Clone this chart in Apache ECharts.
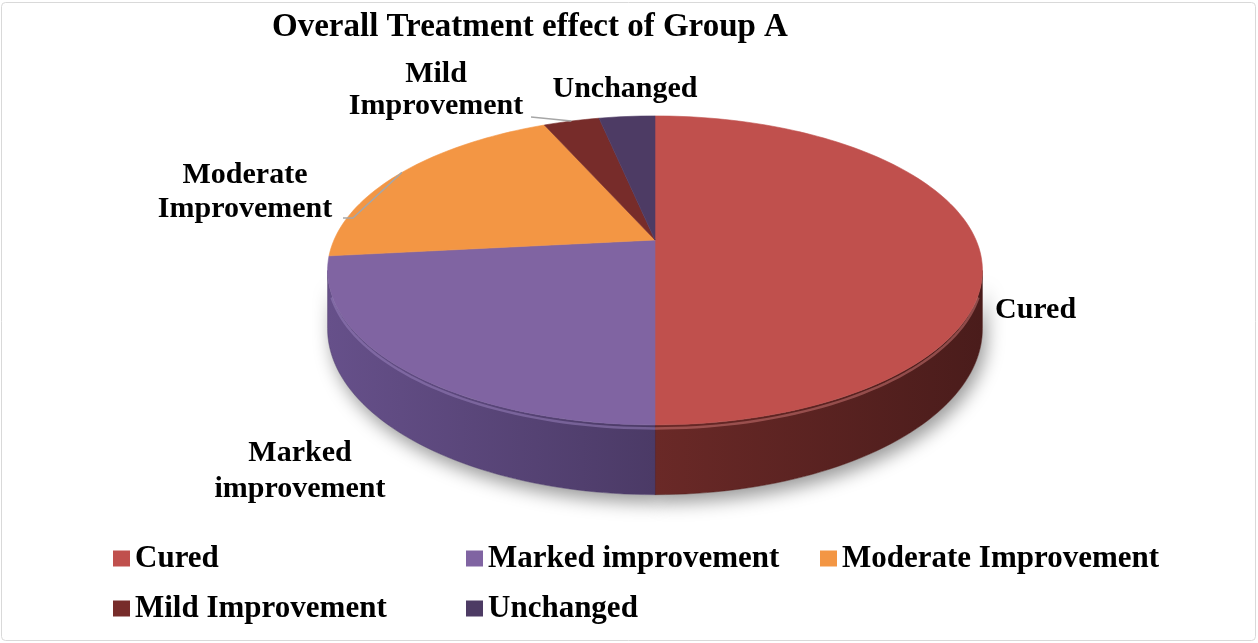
<!DOCTYPE html>
<html>
<head>
<meta charset="utf-8">
<script src="https://cdn.jsdelivr.net/npm/echarts@6/dist/echarts.min.js"></script>
<style>
  html, body { margin: 0; padding: 0; background: #fff; }
  #chart { width: 1258px; height: 643px; }
</style>
</head>
<body>
<div id="chart"></div>
<script>
// data (patients per outcome, 30 in total)
const categories = ['Cured', 'Marked improvement', 'Moderate Improvement', 'Mild Improvement', 'Unchanged'];
const patientCounts = [15, 7, 6, 1, 1];
const labelTexts = ['Cured', 'Marked\nimprovement', 'Moderate\nImprovement', 'Mild\nImprovement', 'Unchanged'];

// colours
const topColors = ['#C0504D', '#8064A2', '#F39644', '#772C2A', '#4D3B64'];
const sideColors = [
    ['#6a2927', '#4a1c1b'],
    ['#66508a', '#4b3a66'],
    ['#b86d2c', '#8f5220'],
    ['#4f1c1b', '#3c1514'],
    ['#3a2c4c', '#2c2139']
];
const rimColors = ['#d27a77', '#9c84c0', '#f8b57a', '#9a4a47', '#6e5a88'];

const FONT = 'Liberation Serif';

// tilted disc drawn with a light perspective
const PIE = { cx: 655, cy: 240, rx: 321, ry: 148.5, persp: 0.197, depth: 56 };

// where the data labels sit (y is the middle of the text block)
const labelLayout = {
    'Cured': { x: 995, y: 310, align: 'left', lineHeight: 34 },
    'Marked improvement': { x: 300, y: 471, align: 'center', lineHeight: 36 },
    'Moderate Improvement': { x: 245, y: 192, align: 'center', lineHeight: 34, leader: [[343, 218], [353, 218]] },
    'Mild Improvement': { x: 436, y: 90, align: 'center', lineHeight: 32, leader: [[531, 117]] },
    'Unchanged': { x: 625, y: 89, align: 'center', lineHeight: 34 }
};

const legendSpots = [[113, 543], [466, 543], [820, 543], [113, 593], [466, 593]];

// angles (degrees clockwise from 12 o'clock)
const total = patientCounts.reduce((a, b) => a + b, 0);
const sweeps = patientCounts.map(v => v / total * 360);
const starts = [];
sweeps.reduce((acc, s) => { starts.push(acc); return acc + s; }, 0);

// the wall is seen between the two widest points of the disc
const wallFrom = Math.acos(-PIE.persp) * 180 / Math.PI;
const wallTo = 360 - wallFrom;

function project(angle, d) {
    const rad = angle * Math.PI / 180;
    const u = Math.sin(rad), v = -Math.cos(rad);
    const s = 1 / (1 - PIE.persp * v);
    return [PIE.cx + PIE.rx * u * s, PIE.cy + PIE.ry * v * s + d * PIE.depth * s];
}

function arc(a0, a1, d) {
    const pts = [];
    const n = Math.max(2, Math.ceil(Math.abs(a1 - a0) / 1.5));
    for (let i = 0; i <= n; i++) pts.push(project(a0 + (a1 - a0) * i / n, d));
    return pts;
}

function renderSlice(i, a0, sweep) {
    const a1 = a0 + sweep;
    const children = [];

    // front wall
    const s0 = Math.max(a0, wallFrom), s1 = Math.min(a1, wallTo);
    if (s1 > s0) {
        const wall = arc(s0, s1, 0).concat(arc(s1, s0, 1));
        const grad = new echarts.graphic.LinearGradient(0, 0, 1, 0, [
            { offset: 0, color: sideColors[i][0] },
            { offset: 1, color: sideColors[i][1] }
        ]);
        children.push({
            type: 'polygon', z2: 0, shape: { points: wall },
            style: { fill: '#fff', shadowBlur: 18, shadowOffsetX: 4, shadowOffsetY: 8, shadowColor: 'rgba(0,0,0,0.4)' }
        });
        children.push({
            type: 'polygon', z2: 1, shape: { points: wall },
            style: { fill: grad, stroke: sideColors[i][1], lineWidth: 0.5 }
        });
        const r0 = Math.max(a0, 110), r1 = Math.min(a1, 250);
        if (r1 > r0) {
            children.push({
                type: 'polyline', z2: 6, shape: { points: arc(r0, r1, 0.05) },
                style: { fill: null, stroke: rimColors[i], lineWidth: 2.5, opacity: 0.5 }
            });
        }
    }

    // top face
    children.push({
        type: 'polygon', z2: 5,
        shape: { points: [[PIE.cx, PIE.cy]].concat(arc(a0, a1, 0)) },
        style: { fill: topColors[i], stroke: topColors[i], lineWidth: 0.6 }
    });

    // label and leader line
    const lay = labelLayout[categories[i]];
    if (lay.leader) {
        const tip = project(a0 + sweep / 2, 0);
        children.push({
            type: 'polyline', z2: 9,
            shape: { points: lay.leader.concat([tip]) },
            style: { fill: null, stroke: '#a6a6a6', lineWidth: 1.5 }
        });
    }
    children.push({
        type: 'text', z2: 10, x: lay.x, y: lay.y,
        style: {
            text: labelTexts[i], fill: '#000', font: 'bold 30px "' + FONT + '"',
            align: lay.align, verticalAlign: 'middle', lineHeight: lay.lineHeight
        }
    });

    return { type: 'group', children };
}

const chart = echarts.init(document.getElementById('chart'));

const option = {
    animation: false,
    backgroundColor: '#fff',
    title: {
        text: 'Overall Treatment effect of Group A',
        left: 272, top: 11, padding: 0,
        textStyle: { fontFamily: FONT, fontWeight: 'bold', fontSize: 33, color: '#000' }
    },
    legend: categories.map((name, i) => ({
        data: [name],
        left: legendSpots[i][0], top: legendSpots[i][1],
        padding: 0, icon: 'rect', itemWidth: 17, itemHeight: 16,
        selectedMode: false,
        textStyle: { fontFamily: FONT, fontWeight: 'bold', fontSize: 31, color: '#000' }
    })),
    graphic: [{
        type: 'rect', z: -1,
        shape: { x: 1.5, y: 2.5, width: 1254, height: 638, r: 4 },
        style: { fill: 'none', stroke: '#d9d9d9', lineWidth: 1 }
    }],
    series: categories.map((name, i) => ({
        type: 'custom',
        name,
        coordinateSystem: 'none',
        itemStyle: { color: topColors[i] },
        data: [[starts[i], sweeps[i]]],
        renderItem: (params, api) => renderSlice(i, api.value(0), api.value(1))
    }))
};

chart.setOption(option);
</script>
</body>
</html>
